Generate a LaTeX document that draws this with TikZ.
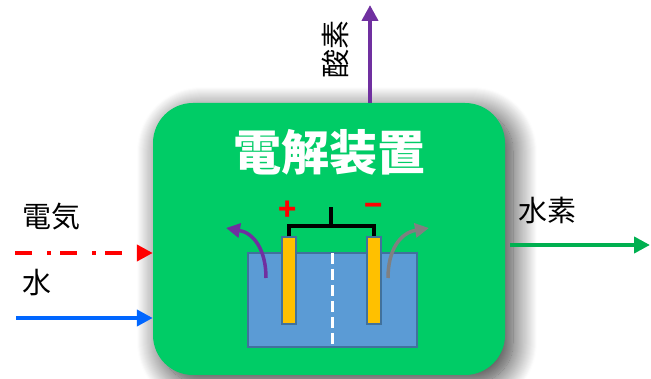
\documentclass[tikz,border=0pt]{standalone}
\usepackage{fontspec}
\newfontfamily\jpfont{Noto Sans CJK JP}
\usetikzlibrary{arrows.meta, positioning, shadows.blur}
\definecolor{devgreen}{RGB}{0,204,102}
\definecolor{tankblue}{RGB}{91,155,213}
\definecolor{tankedge}{RGB}{65,113,156}
\definecolor{plateyellow}{RGB}{255,192,0}
\definecolor{oxpurple}{RGB}{112,48,160}
\definecolor{hydrogreen}{RGB}{0,176,80}
\definecolor{waterblue}{RGB}{0,102,255}

\tikzset{
    device/.style={fill=devgreen, rounded corners=40pt, minimum width=352pt, minimum height=272pt, inner sep=0pt,
        blur shadow={shadow xshift=8pt, shadow yshift=-8pt, shadow blur radius=24pt, shadow opacity=80, shadow blur steps=24}},
    txt/.style={font=\jpfont\fontsize{29}{32}\selectfont, inner sep=0pt, anchor=west},
    flow/.style={line width=4pt, -{Triangle[length=16pt, width=16pt]}},
    bubble/.style={line width=3.5pt, -{Triangle[length=14pt, width=14pt]}},
    plate/.style={fill=plateyellow, draw=tankedge, line width=2pt, minimum width=14pt, minimum height=87pt, inner sep=0pt},
    wire/.style={line width=4pt, black},
    sign/.style={font=\jpfont\bfseries\fontsize{30}{32}\selectfont, red, inner sep=0pt}
}

\begin{document}
\begin{tikzpicture}[x=1pt, y=-1pt]
    \useasboundingbox (0,0) rectangle (651,379);

    % Electrolyser box
    \node[device] (dev) at (329,239) {};
    \node[font=\jpfont\bfseries\fontsize{48}{52}\selectfont, white] (title) at (329,152) {電解装置};

    % Tank with electrodes
    \node[fill=tankblue, draw=tankedge, line width=2pt, minimum width=169pt, minimum height=94pt, inner sep=0pt] (tank) at (332.5,300) {};
    \draw[white, line width=3.5pt, dash pattern=on 11pt off 5pt] ([yshift=-1pt]tank.north) -- ([yshift=1pt]tank.south);
    \node[plate] (anode) at (288.8,281) {};
    \node[plate] (cathode) at (374.2,281) {};

    % Wiring
    \coordinate (junc) at (331,226);
    \draw[wire] (anode.north) |- (junc) -| (cathode.north);
    \draw[wire] (junc) -- ++(0,-19);
    \node[sign] (plus) at (288,211) {+};
    \node[sign] (minus) at (374,210) {−};

    % Gas leaving the electrodes
    \draw[bubble, oxpurple] (266,278) .. controls (266,250) and (254,233) .. (226,228);
    \draw[bubble, gray] (388,278) .. controls (388,250) and (400,233) .. (429,228);

    % Inputs
    \node[txt] (elec) at (22,217) {電気};
    \coordinate (elecin) at (15,253);
    \draw[flow, red, dash pattern=on 17pt off 15pt on 4pt off 9pt] (elecin) -- (dev.west |- elecin);
    \node[txt] (water) at (22,283) {水};
    \coordinate (waterin) at (16,318);
    \draw[flow, waterblue] (waterin) -- (dev.west |- waterin);

    % Outputs
    \coordinate (o2out) at (370,5);
    \draw[flow, oxpurple] (dev.north -| o2out) -- (o2out);
    \node[txt, anchor=center, rotate=90] (o2) at (335,50) {酸素};
    \coordinate (h2out) at (650,245);
    \draw[flow, hydrogreen] ([xshift=5pt]dev.east |- h2out) -- (h2out);
    \node[txt] (h2) at (518,210) {水素};
\end{tikzpicture}
\end{document}
